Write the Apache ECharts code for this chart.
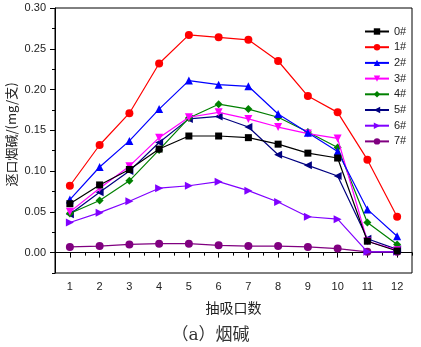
<!DOCTYPE html>
<html>
<head>
<meta charset="utf-8">
<script src="https://cdn.jsdelivr.net/npm/echarts@6/dist/echarts.min.js"></script>
<style>
  html, body { margin: 0; padding: 0; background: #fff; }
  #chart { width: 421px; height: 347px; }
</style>
</head>
<body>
<div id="chart"></div>
<script>
// Puff numbers (x) and nicotine per puff (mg/cig) for each sample
const puffs = [1, 2, 3, 4, 5, 6, 7, 8, 9, 10, 11, 12];
const seriesNames = ['0#', '1#', '2#', '3#', '4#', '5#', '6#', '7#'];

const s0 = [0.060, 0.083, 0.102, 0.127, 0.143, 0.143, 0.141, 0.133, 0.122, 0.116, 0.014, 0.002];
const s1 = [0.082, 0.132, 0.171, 0.232, 0.267, 0.264, 0.261, 0.235, 0.192, 0.172, 0.114, 0.044];
const s2 = [0.065, 0.105, 0.137, 0.176, 0.211, 0.206, 0.204, 0.170, 0.147, 0.124, 0.053, 0.020];
const s3 = [0.050, 0.079, 0.106, 0.141, 0.166, 0.172, 0.164, 0.154, 0.146, 0.140, 0.014, 0.003];
const s4 = [0.048, 0.064, 0.088, 0.126, 0.165, 0.182, 0.176, 0.166, 0.148, 0.129, 0.037, 0.010];
const s5 = [0.047, 0.074, 0.100, 0.135, 0.164, 0.167, 0.154, 0.120, 0.107, 0.094, 0.017, 0.004];
const s6 = [0.037, 0.049, 0.063, 0.079, 0.082, 0.087, 0.076, 0.062, 0.044, 0.041, 0.001, 0.001];
const s7 = [0.007, 0.008, 0.010, 0.011, 0.011, 0.009, 0.008, 0.008, 0.007, 0.005, 0.001, 0.001];

const yMajorTicks = [0, 0.05, 0.10, 0.15, 0.20, 0.25, 0.30];

const values = [s0, s1, s2, s3, s4, s5, s6, s7];
const colors = ['#000000', '#ff0000', '#0000ff', '#ff00ff', '#008000', '#000080', '#8000ff', '#800080'];
const symbols = ['rect', 'circle', 'triangle', 'triangle', 'diamond', 'triangle', 'triangle', 'circle'];
const rotations = [0, 0, 0, 180, 0, 90, -90, 0];
const sizes = [7, 8, 8, 8, 8, 8, 8, 8];

const chart = echarts.init(document.getElementById('chart'), null, { renderer: 'canvas' });

const axisFont = { fontFamily: 'Liberation Sans, Arial, sans-serif', fontSize: 11, color: '#222' };

const option = {
  backgroundColor: '#fff',
  animation: false,
  grid: {
    left: 55, right: 9, top: 8, bottom: 74,
    outerBoundsMode: 'none',
    containLabel: false,
    show: true, borderColor: '#000', borderWidth: 1, backgroundColor: 'transparent'
  },
  legend: {
    orient: 'vertical',
    left: 359, top: 21,
    itemWidth: 24, itemHeight: 8, itemGap: 4.7,
    textStyle: { fontFamily: 'Liberation Sans, Arial, sans-serif', fontSize: 11, color: '#222' },
    data: seriesNames
  },
  xAxis: [
    {
      type: 'value', min: 0.5, max: 12.5, interval: 0.5,
      name: '抽吸口数', nameLocation: 'middle', nameGap: 28,
      nameMoveOverlap: false,
      nameTextStyle: { fontFamily: 'Noto Sans CJK SC', fontSize: 14, color: '#222' },
      axisLine: { show: true, lineStyle: { color: '#000', width: 1 } },
      axisTick: { show: true, inside: false, length: 3, lineStyle: { color: '#000' } },
      axisLabel: Object.assign({
        margin: 8,
        formatter: v => (Number.isInteger(v) ? String(v) : '')
      }, axisFont),
      splitLine: { show: false }
    },
    {
      type: 'value', min: 0.5, max: 12.5, position: 'bottom',
      axisLine: { show: false },
      axisTick: { show: true, length: 5, lineStyle: { color: '#000' }, customValues: puffs },
      axisLabel: { show: false },
      splitLine: { show: false }
    }
  ],
  yAxis: [
    {
      type: 'value', min: -0.025, max: 0.30, interval: 0.025,
      name: '逐口烟碱/(mg/支)', nameLocation: 'middle', nameGap: 37,
      nameMoveOverlap: false,
      nameTextStyle: { fontFamily: 'Noto Sans CJK SC', fontSize: 13, color: '#222', padding: [0, 0, 0, 12] },
      axisLine: { show: true, lineStyle: { color: '#000', width: 1 } },
      axisTick: { show: true, length: 3, lineStyle: { color: '#000' } },
      axisLabel: Object.assign({
        margin: 9,
        formatter: v => {
          const r = Math.round(v * 1000);
          return (r >= 0 && r % 50 === 0) ? (r / 1000).toFixed(2) : '';
        }
      }, axisFont),
      splitLine: { show: false }
    },
    {
      type: 'value', min: -0.025, max: 0.30, position: 'left',
      axisLine: { show: false },
      axisTick: { show: true, length: 5, lineStyle: { color: '#000' }, customValues: yMajorTicks },
      axisLabel: { show: false },
      splitLine: { show: false }
    }
  ],
  series: seriesNames.map((name, i) => ({
    name: name,
    type: 'line',
    xAxisIndex: 0,
    yAxisIndex: 0,
    data: puffs.map((p, j) => [p, values[i][j]]),
    symbol: symbols[i],
    symbolRotate: rotations[i],
    symbolSize: sizes[i],
    showAllSymbol: true,
    lineStyle: { color: colors[i], width: 1.2 },
    itemStyle: { color: colors[i], borderWidth: 0 },
    z: 2 + (7 - i)
  })),
  graphic: [
    {
      type: 'text',
      left: 'center', top: 327,
      style: {
        text: '（a）烟碱',
        font: '17px "DejaVu Serif", "Noto Sans CJK SC", serif',
        fill: '#333',
        x: -22
      }
    }
  ]
};

chart.setOption(option);
</script>
</body>
</html>
